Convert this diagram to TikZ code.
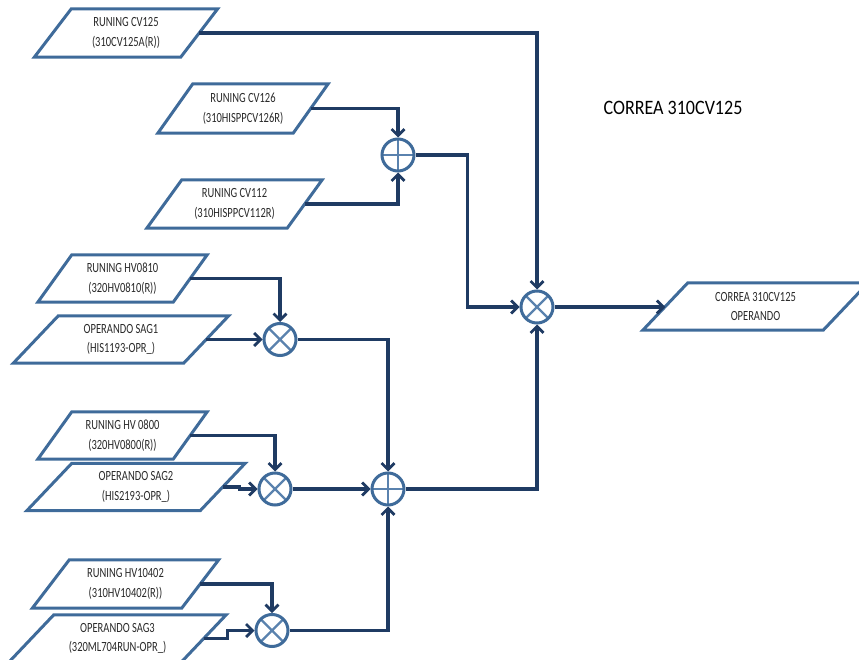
\documentclass[tikz,border=0pt]{standalone}
\usepackage{fontspec}
\usetikzlibrary{arrows.meta}
\newfontfamily\lblfont[FakeStretch=0.75]{Carlito}
\newfontfamily\ttlfont[FakeStretch=0.88]{Carlito}

\definecolor{edgeblue}{HTML}{3F6B9A}
\definecolor{wireblue}{HTML}{1F3B63}
\definecolor{markblue}{HTML}{5A82AE}
\definecolor{inkgray}{HTML}{2A2A2A}

\tikzset{
  iobox/.style={draw=none, align=center, inner sep=0pt, text=inkgray,
    font=\lblfont\fontsize{14}{19.5}\selectfont},
  iofill/.style={draw=edgeblue, line width=3pt, fill=white, line join=miter},
  junction/.style={circle, draw=edgeblue, line width=3pt, fill=white,
    minimum size=32pt, inner sep=0pt},
  sumnode/.style={junction, path picture={
    \draw[markblue, line width=2.4pt]
      (path picture bounding box.north) -- (path picture bounding box.south)
      (path picture bounding box.west) -- (path picture bounding box.east);}},
  prodnode/.style={junction, path picture={
    \draw[markblue, line width=2.4pt]
      (path picture bounding box.north west) -- (path picture bounding box.south east)
      (path picture bounding box.north east) -- (path picture bounding box.south west);}},
  conn/.style={draw=wireblue, line width=3.2pt, line join=miter,
    -{Straight Barb[length=6.5pt,width=13pt,line width=2.8pt]}},
  heading/.style={text=black, font=\ttlfont\fontsize{20.5}{24}\selectfont}
}

% parallelogram around a text node: #1 node name, #2 half horizontal offset
\newcommand{\ioframe}[2]{%
  \path[iofill] ([xshift=#2]#1.north west) -- ([xshift=#2]#1.north east)
    -- ([xshift=-#2]#1.south east) -- ([xshift=-#2]#1.south west) -- cycle;}

% input / output node: name, x, y, width, height, slant, text
\newcommand{\ionode}[7]{%
  \node[iobox, minimum width=#4, minimum height=#5] (#1) at (#2,#3) {};
  \ioframe{#1}{#6}
  \node[iobox] at (#1.center) {#7};}

\begin{document}
\begin{tikzpicture}[x=1pt, y=-1pt]
\useasboundingbox (0,0) rectangle (859,660);

% inputs
\ionode{cv125}{126}{33}{146}{48}{18.5}{RUNING CV125\\(310CV125A(R))}
\ionode{cv126}{243}{108.5}{135}{49}{17.5}{RUNING CV126\\(310HISPPCV126R)}
\ionode{cv112}{234.5}{204}{140}{48}{17.5}{RUNING CV112\\(310HISPPCV112R)}
\ionode{hv0810}{122.5}{278.5}{135}{47}{17}{RUNING HV0810\\(320HV0810(R))}
\ionode{sag1}{121}{339.5}{170}{47}{22.5}{OPERANDO SAG1\\(HIS1193-OPR\_)}
\ionode{hv0800}{122.5}{435.5}{135}{47}{17}{RUNING HV 0800\\(320HV0800(R))}
\ionode{sag2}{136}{487}{173}{47}{22.5}{OPERANDO SAG2\\(HIS2193-OPR\_)}
\ionode{hv10402}{125.5}{584}{149}{48}{18.5}{RUNING HV10402\\(310HV10402(R))}
\ionode{sag3}{117.5}{638.5}{172}{47}{22.5}{OPERANDO SAG3\\(320ML704RUN-OPR\_)}

% output
\ionode{out}{755.5}{306.5}{180}{47}{22.5}{CORREA 310CV125\\OPERANDO}

% title
\node[heading] (title) at (673,108) {CORREA 310CV125};

% junctions
\node[sumnode]  (plus1) at (398,155) {};
\node[prodnode] (xbig)  at (537,307) {};
\node[prodnode] (xa)    at (280,339.5) {};
\node[prodnode] (xb)    at (275,489) {};
\node[sumnode]  (plus2) at (388,489) {};
\node[prodnode] (xc)    at (272,630.5) {};

% connectors
\draw[conn] (cv125.east) -| (xbig.north);
\draw[conn] (cv126.east) -| (plus1.north);
\draw[conn] (cv112.east) -| (plus1.south);
\draw[conn] (plus1.east) -- ++(52,0) |- (xbig.west);
\draw[conn] (xbig.east) -- (xbig.east -| out.west);

\draw[conn] (hv0810.east) -| (xa.north);
\draw[conn] (sag1.east) -- (xa.west);
\draw[conn] (xa.east) -| (plus2.north);

\draw[conn] (hv0800.east) -| (xb.north);
\draw[conn] (sag2.east) -- ++(17,0) |- (xb.west);
\draw[conn] (xb.east) -- (plus2.west);

\draw[conn] (hv10402.east) -| (xc.north);
\draw[conn] (sag3.east) -- ++(24,0) |- (xc.west);
\draw[conn] (xc.east) -| (plus2.south);

\draw[conn] (plus2.east) -| (xbig.south);
\end{tikzpicture}
\end{document}
